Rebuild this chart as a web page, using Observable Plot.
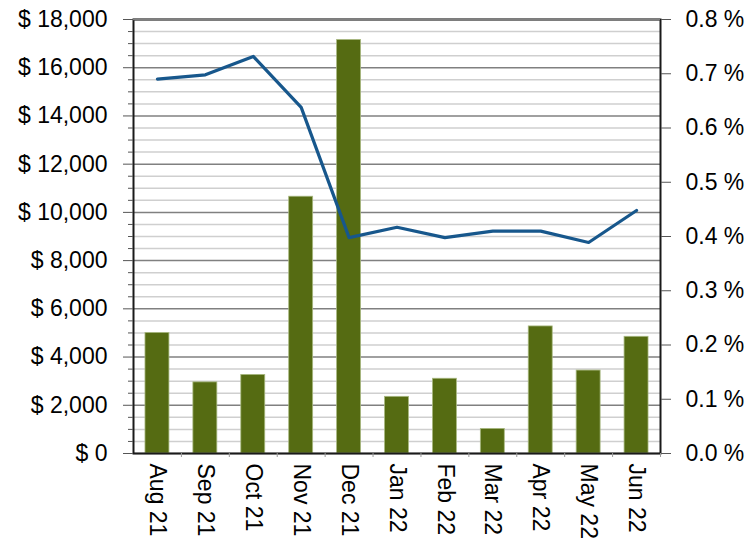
<!DOCTYPE html>
<html>
<head>
<meta charset="utf-8">
<script src="https://cdn.jsdelivr.net/npm/d3@7"></script>
<script src="https://cdn.jsdelivr.net/npm/@observablehq/plot@0.6"></script>
<style>
  html, body { margin: 0; padding: 0; background: #fff; }
</style>
</head>
<body>
<div id="chart"></div>
<script>
const months = ["Aug 21","Sep 21","Oct 21","Nov 21","Dec 21","Jan 22","Feb 22","Mar 22","Apr 22","May 22","Jun 22"];
const sales = [5000, 2950, 3260, 10650, 17150, 2350, 3100, 1020, 5270, 3440, 4840];
const ratePct = [0.690, 0.698, 0.732, 0.638, 0.398, 0.417, 0.398, 0.410, 0.410, 0.389, 0.448];
const leftTicks = [0, 2000, 4000, 6000, 8000, 10000, 12000, 14000, 16000, 18000];
const leftMinorTicks = [500,1000,1500,2500,3000,3500,4500,5000,5500,6500,7000,7500,8500,9000,9500,10500,11000,11500,12500,13000,13500,14500,15000,15500,16500,17000,17500];
const rightTicks = [0, 0.1, 0.2, 0.3, 0.4, 0.5, 0.6, 0.7, 0.8];

const leftMax = 18000, rightMax = 0.8;
const k = leftMax / rightMax; // dollars per percent unit

const W = 746, H = 543, mL = 133, mR = 86, mT = 19, mB = 90;
const halfBand = (W - mL - mR) / months.length / 2;

const data = months.map((m, i) => ({month: m, sales: sales[i], rate: ratePct[i]}));

const chart = Plot.plot({
  width: W, height: H,
  marginLeft: mL, marginRight: mR, marginTop: mT, marginBottom: mB,
  style: {fontFamily: "'Liberation Sans', Arial, sans-serif", fontSize: "23px", color: "#000", background: "#fff"},
  x: {type: "band", domain: months, paddingInner: 0.5, paddingOuter: 0.25, round: false, axis: null, label: null},
  y: {domain: [0, leftMax], axis: null, label: null},
  marks: [
    Plot.ruleY(leftMinorTicks, {stroke: "#cfcfcf", strokeWidth: 1.5}),
    Plot.ruleY(leftTicks, {stroke: "#808080", strokeWidth: 1.5}),
    Plot.barY(data, {x: "month", y: "sales", fill: "#556b12", stroke: "#a8b880", strokeWidth: 0.8}),
    Plot.lineY(data, {x: "month", y: d => d.rate * k, stroke: "#17578c", strokeWidth: 3.2, curve: "linear"}),
    Plot.frame({stroke: "#1a1a1a", strokeWidth: 2}),
    Plot.ruleY([leftMax], {stroke: "#808080", strokeWidth: 1.5}),
    // left axis
    Plot.axisY(leftMinorTicks, {anchor: "left", label: null, tickSize: 5, stroke: "#555", tickFormat: () => ""}),
    Plot.axisY(leftTicks, {anchor: "left", label: null, tickSize: 10, tickPadding: 16, stroke: "#555", fill: "#000",
      tickFormat: d => "$ " + d3.format(",")(d)}),
    // right axis
    Plot.axisY(rightTicks.map(p => p * k), {anchor: "right", label: null, tickSize: 10, tickPadding: 15, stroke: "#555", fill: "#000",
      tickFormat: d => (d / k).toFixed(1) + " %"}),
    // bottom axis
    Plot.axisX({anchor: "bottom", label: null, tickSize: 4, dx: halfBand, stroke: "#999", tickFormat: () => ""}),
    Plot.axisX({anchor: "bottom", label: null, tickSize: 0, tickPadding: 10, tickRotate: 90, fill: "#000"})
  ]
});
document.getElementById("chart").appendChild(chart);
</script>
</body>
</html>
